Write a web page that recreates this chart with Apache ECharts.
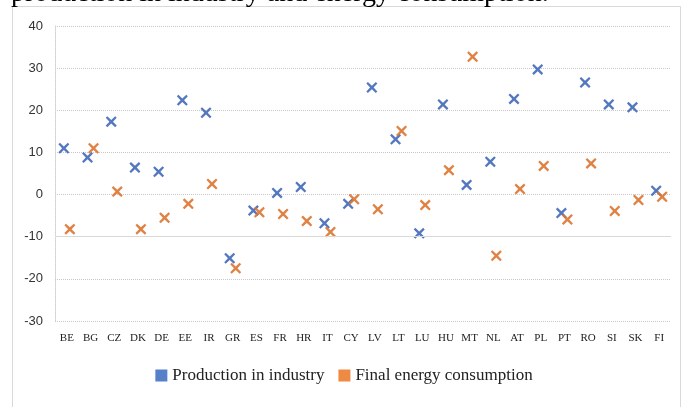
<!DOCTYPE html>
<html>
<head>
<meta charset="utf-8">
<script src="https://cdn.jsdelivr.net/npm/echarts@6/dist/echarts.min.js"></script>
<style>
html,body{margin:0;padding:0;background:#fff;}
#chart{width:688px;height:407px;}
</style>
</head>
<body>
<div id="chart"></div>
<script>
const categories = ['BE','BG','CZ','DK','DE','EE','IR','GR','ES','FR','HR','IT','CY','LV','LT','LU','HU','MT','NL','AT','PL','PT','RO','SI','SK','FI'];
const productionInIndustry = [11.0, 8.8, 17.3, 6.4, 5.4, 22.4, 19.4, -15.1, -3.8, 0.4, 1.8, -6.8, -2.2, 25.4, 13.1, -9.2, 21.4, 2.3, 7.8, 22.7, 29.7, -4.4, 26.6, 21.4, 20.7, 0.9];
const finalEnergyConsumption = [-8.2, 11.0, 0.7, -8.2, -5.5, -2.2, 2.5, -17.5, -4.2, -4.6, -6.3, -8.9, -1.1, -3.5, 15.1, -2.5, 5.8, 32.7, -14.5, 1.3, 6.8, -5.9, 7.4, -3.9, -1.3, -0.5];
const seriesNames = ['Production in industry', 'Final energy consumption'];
const captionText = 'production in industry and energy consumption.';

const xSymbol = 'path://M0,14L14,0L50,34L86,0L100,14L66,50L100,86L86,100L50,66L14,100L0,86L34,50Z';

const chart = echarts.init(document.getElementById('chart'), null, {renderer: 'canvas'});
chart.setOption({
  animation: false,
  backgroundColor: '#ffffff',
  graphic: [
    {type: 'rect', shape: {x: 12.5, y: 6.5, width: 668, height: 420}, style: {fill: 'none', stroke: '#d9d9d9', lineWidth: 1}, silent: true},
    {type: 'text', left: 11, top: -20, style: {text: captionText, font: '28px "Liberation Serif"', fill: '#000'}, silent: true}
  ],
  grid: {left: 55, right: 17, top: 26, bottom: 86, containLabel: false},
  legend: {
    bottom: 18,
    left: 'center',
    icon: 'rect',
    itemWidth: 12,
    itemHeight: 12,
    itemGap: 14,
    textStyle: {fontFamily: 'Liberation Serif', fontSize: 17, color: '#222'},
    data: [
      {name: seriesNames[0], itemStyle: {color: '#4472C4'}},
      {name: seriesNames[1], itemStyle: {color: '#ED7D31'}}
    ]
  },
  xAxis: {
    type: 'category',
    data: categories,
    boundaryGap: true,
    axisLine: {show: false},
    axisTick: {show: false},
    axisLabel: {interval: 0, fontFamily: 'Liberation Serif', fontSize: 11, color: '#222', margin: 12},
    splitLine: {show: false}
  },
  yAxis: {
    type: 'value',
    min: -30,
    max: 40,
    interval: 10,
    axisLine: {show: true, lineStyle: {color: '#cfcfcf', type: 'dotted'}},
    axisTick: {show: false},
    axisLabel: {fontFamily: '"Liberation Sans Narrow","Liberation Sans"', fontSize: 13, color: '#333', margin: 12},
    splitLine: {show: true, lineStyle: {color: '#c8c8c8', type: 'dotted', width: 1}}
  },
  series: [
    {
      name: seriesNames[0],
      type: 'scatter',
      data: productionInIndustry,
      symbol: xSymbol,
      symbolSize: 11,
      symbolOffset: [-3, 0],
      itemStyle: {color: '#4169B8', opacity: 0.9},
      markLine: {
        silent: true,
        symbol: 'none',
        label: {show: false},
        lineStyle: {color: '#d9d9d9', type: 'solid', width: 1},
        data: [{yAxis: -10}]
      },
      z: 3
    },
    {
      name: seriesNames[1],
      type: 'scatter',
      data: finalEnergyConsumption,
      symbol: xSymbol,
      symbolSize: 11,
      symbolOffset: [3, 0],
      itemStyle: {color: '#DB7430', opacity: 0.9},
      z: 4
    }
  ]
});
</script>
</body>
</html>
